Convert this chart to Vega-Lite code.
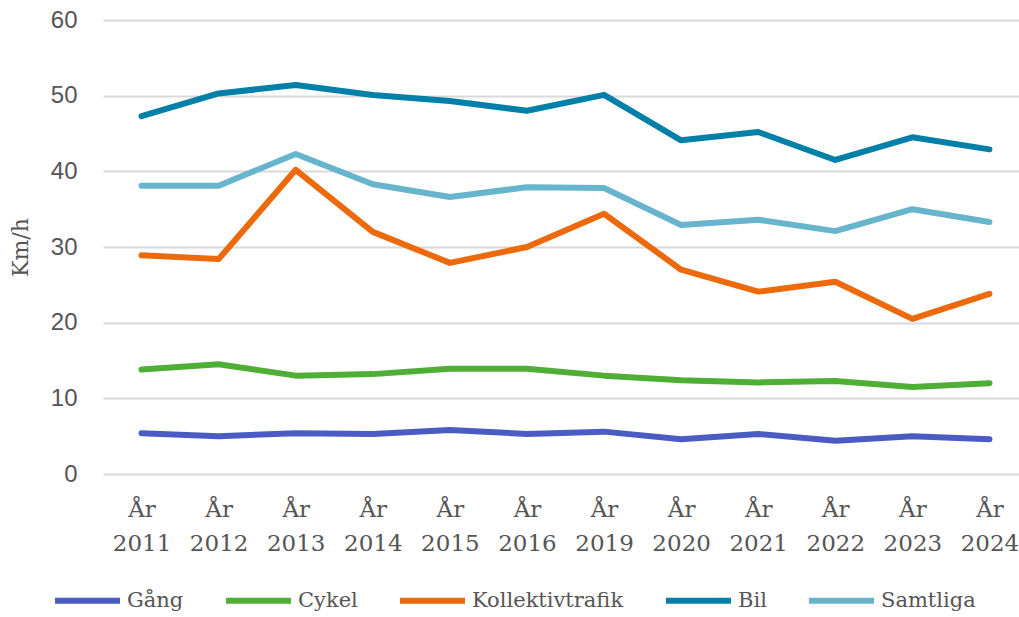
{
  "$schema": "https://vega.github.io/schema/vega-lite/v6.json",
  "width": 925,
  "height": 454,
  "autosize": "none",
  "padding": {"left": 103, "top": 20, "right": 0, "bottom": 143},
  "background": "white",
  "config": {
    "view": {"stroke": null},
    "font": "DejaVu Serif"
  },
  "data": {
    "values": [
      {"year": "År 2011", "series": "Gång", "v": 5.4},
      {"year": "År 2012", "series": "Gång", "v": 5.0},
      {"year": "År 2013", "series": "Gång", "v": 5.4},
      {"year": "År 2014", "series": "Gång", "v": 5.3},
      {"year": "År 2015", "series": "Gång", "v": 5.8},
      {"year": "År 2016", "series": "Gång", "v": 5.3},
      {"year": "År 2019", "series": "Gång", "v": 5.6},
      {"year": "År 2020", "series": "Gång", "v": 4.6},
      {"year": "År 2021", "series": "Gång", "v": 5.3},
      {"year": "År 2022", "series": "Gång", "v": 4.4},
      {"year": "År 2023", "series": "Gång", "v": 5.0},
      {"year": "År 2024", "series": "Gång", "v": 4.6},
      {"year": "År 2011", "series": "Cykel", "v": 13.8},
      {"year": "År 2012", "series": "Cykel", "v": 14.5},
      {"year": "År 2013", "series": "Cykel", "v": 13.0},
      {"year": "År 2014", "series": "Cykel", "v": 13.2},
      {"year": "År 2015", "series": "Cykel", "v": 13.9},
      {"year": "År 2016", "series": "Cykel", "v": 13.9},
      {"year": "År 2019", "series": "Cykel", "v": 13.0},
      {"year": "År 2020", "series": "Cykel", "v": 12.4},
      {"year": "År 2021", "series": "Cykel", "v": 12.1},
      {"year": "År 2022", "series": "Cykel", "v": 12.3},
      {"year": "År 2023", "series": "Cykel", "v": 11.5},
      {"year": "År 2024", "series": "Cykel", "v": 12.0},
      {"year": "År 2011", "series": "Kollektivtrafik", "v": 28.9},
      {"year": "År 2012", "series": "Kollektivtrafik", "v": 28.4},
      {"year": "År 2013", "series": "Kollektivtrafik", "v": 40.2},
      {"year": "År 2014", "series": "Kollektivtrafik", "v": 32.0},
      {"year": "År 2015", "series": "Kollektivtrafik", "v": 27.9},
      {"year": "År 2016", "series": "Kollektivtrafik", "v": 30.0},
      {"year": "År 2019", "series": "Kollektivtrafik", "v": 34.4},
      {"year": "År 2020", "series": "Kollektivtrafik", "v": 27.0},
      {"year": "År 2021", "series": "Kollektivtrafik", "v": 24.1},
      {"year": "År 2022", "series": "Kollektivtrafik", "v": 25.4},
      {"year": "År 2023", "series": "Kollektivtrafik", "v": 20.5},
      {"year": "År 2024", "series": "Kollektivtrafik", "v": 23.8},
      {"year": "År 2011", "series": "Bil", "v": 47.3},
      {"year": "År 2012", "series": "Bil", "v": 50.3},
      {"year": "År 2013", "series": "Bil", "v": 51.4},
      {"year": "År 2014", "series": "Bil", "v": 50.1},
      {"year": "År 2015", "series": "Bil", "v": 49.3},
      {"year": "År 2016", "series": "Bil", "v": 48.0},
      {"year": "År 2019", "series": "Bil", "v": 50.1},
      {"year": "År 2020", "series": "Bil", "v": 44.1},
      {"year": "År 2021", "series": "Bil", "v": 45.2},
      {"year": "År 2022", "series": "Bil", "v": 41.5},
      {"year": "År 2023", "series": "Bil", "v": 44.5},
      {"year": "År 2024", "series": "Bil", "v": 42.9},
      {"year": "År 2011", "series": "Samtliga", "v": 38.1},
      {"year": "År 2012", "series": "Samtliga", "v": 38.1},
      {"year": "År 2013", "series": "Samtliga", "v": 42.3},
      {"year": "År 2014", "series": "Samtliga", "v": 38.3},
      {"year": "År 2015", "series": "Samtliga", "v": 36.6},
      {"year": "År 2016", "series": "Samtliga", "v": 37.9},
      {"year": "År 2019", "series": "Samtliga", "v": 37.8},
      {"year": "År 2020", "series": "Samtliga", "v": 32.9},
      {"year": "År 2021", "series": "Samtliga", "v": 33.6},
      {"year": "År 2022", "series": "Samtliga", "v": 32.1},
      {"year": "År 2023", "series": "Samtliga", "v": 35.0},
      {"year": "År 2024", "series": "Samtliga", "v": 33.3}
    ]
  },
  "mark": {"type": "line", "strokeWidth": 6, "strokeCap": "round", "strokeJoin": "round"},
  "encoding": {
    "x": {
      "field": "year",
      "type": "ordinal",
      "sort": null,
      "scale": {"type": "point", "padding": 0.5},
      "axis": {
        "title": null,
        "labelAngle": 0,
        "labelExpr": "split(datum.label, ' ')",
        "labelFont": "DejaVu Serif",
        "labelFontSize": 23,
        "labelColor": "#555555",
        "labelLineHeight": 34,
        "labelPadding": 24,
        "ticks": false,
        "domain": false,
        "grid": false
      }
    },
    "y": {
      "field": "v",
      "type": "quantitative",
      "scale": {"domain": [0, 60], "nice": false},
      "axis": {
        "title": "Km/h",
        "titleFont": "DejaVu Serif",
        "titleFontSize": 22,
        "titleFontWeight": "normal",
        "titleColor": "#555555",
        "titlePadding": 18,
        "values": [0, 10, 20, 30, 40, 50, 60],
        "labelFont": "Liberation Sans",
        "labelFontSize": 24,
        "labelColor": "#555555",
        "labelPadding": 26,
        "ticks": false,
        "domain": false,
        "grid": true,
        "gridColor": "#d9d9d9",
        "gridWidth": 2
      }
    },
    "color": {
      "field": "series",
      "type": "nominal",
      "sort": ["Gång", "Cykel", "Kollektivtrafik", "Bil", "Samtliga"],
      "scale": {
        "domain": ["Gång", "Cykel", "Kollektivtrafik", "Bil", "Samtliga"],
        "range": ["#4a5bc4", "#4eae35", "#ec6a0c", "#0080a8", "#67b5cc"]
      },
      "legend": {
        "title": null,
        "orient": "none",
        "legendX": -51,
        "legendY": 545,
        "direction": "horizontal",
        "symbolType": "stroke",
        "symbolSize": 4225,
        "symbolStrokeWidth": 6,
        "labelFont": "DejaVu Serif",
        "labelFontSize": 21,
        "labelColor": "#555555",
        "labelOffset": 4,
        "columnPadding": 30
      }
    }
  }
}
